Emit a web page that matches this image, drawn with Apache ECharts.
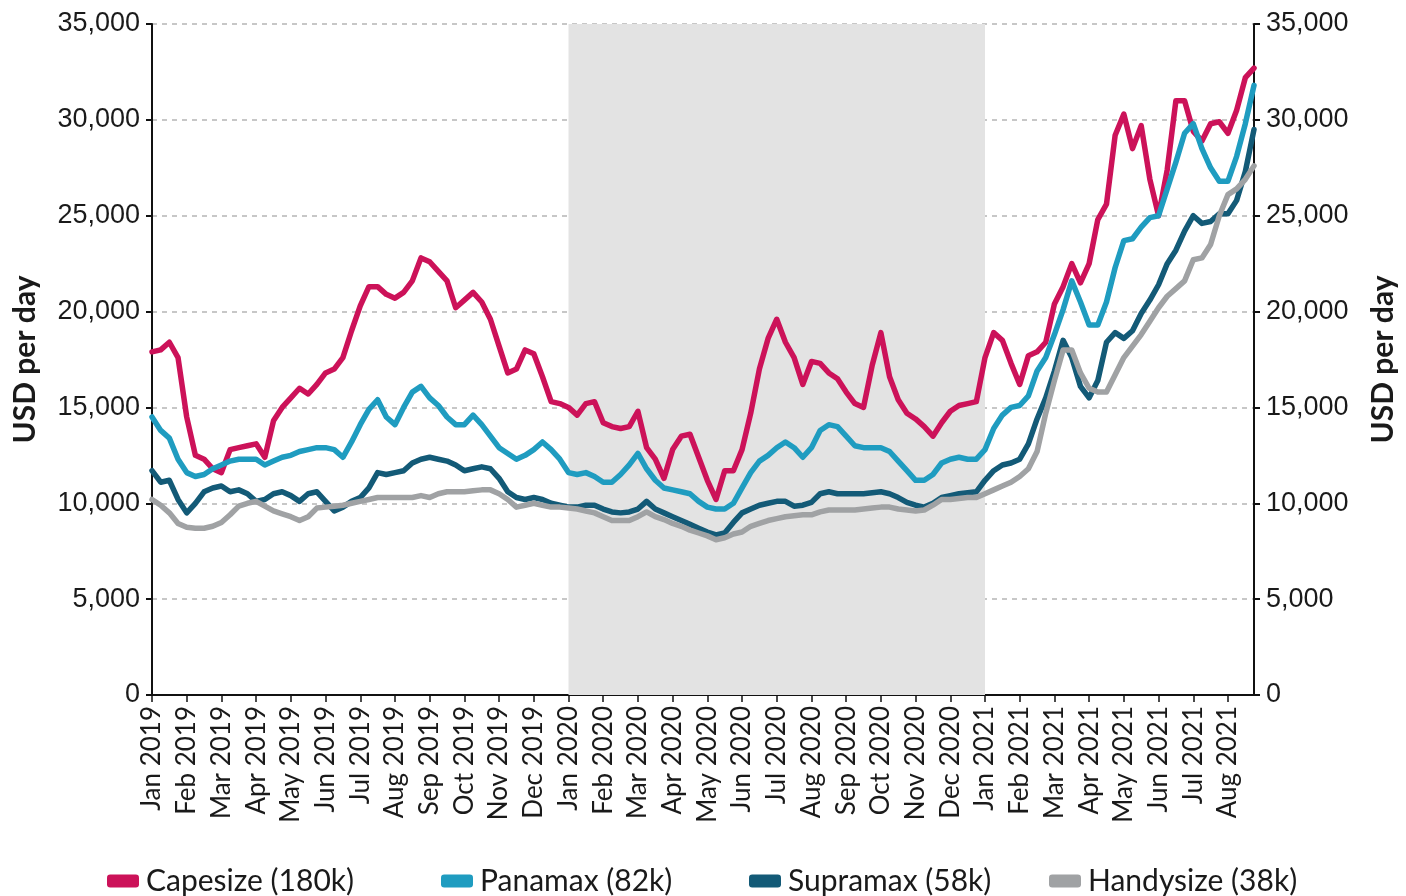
<!DOCTYPE html>
<html>
<head>
<meta charset="utf-8">
<script src="https://cdn.jsdelivr.net/npm/echarts@6/dist/echarts.min.js"></script>
<style>
html,body{margin:0;padding:0;background:#fff;}
#chart{width:1406px;height:896px;}
</style>
</head>
<body>
<div id="chart"></div>
<script>
// Month tick labels (one per month, starting Jan 2019)
const monthLabels = [
  'Jan 2019','Feb 2019','Mar 2019','Apr 2019','May 2019','Jun 2019','Jul 2019','Aug 2019','Sep 2019','Oct 2019','Nov 2019','Dec 2019',
  'Jan 2020','Feb 2020','Mar 2020','Apr 2020','May 2020','Jun 2020','Jul 2020','Aug 2020','Sep 2020','Oct 2020','Nov 2020','Dec 2020',
  'Jan 2021','Feb 2021','Mar 2021','Apr 2021','May 2021','Jun 2021','Jul 2021','Aug 2021'
];
// Shaded period (Jan 2020 to Jan 2021)
const shadeStart = 'Jan 2020';
const shadeEnd = 'Jan 2021';

// Roughly weekly observations (4 per month), USD per day
const capesize = [
  17900,18000,18400,17600,14500,12500,12300,11800,11600,12800,12900,13000,13100,12400,14300,15000,
  15500,16000,15700,16200,16800,17000,17600,19000,20300,21300,21300,20900,20700,21000,21600,22800,
  22600,22100,21600,20200,20600,21000,20500,19600,18200,16800,17000,18000,17800,16600,15300,15200,
  15000,14600,15200,15300,14200,14000,13900,14000,14800,12900,12300,11300,12800,13500,13600,12400,
  11200,10200,11700,11700,12800,14700,17000,18600,19600,18400,17600,16200,17400,17300,16800,16500,
  15800,15200,15000,17200,18900,16600,15400,14700,14400,14000,13500,14200,14800,15100,15200,15300,
  17600,18900,18500,17300,16200,17700,17900,18400,20400,21300,22500,21500,22500,24800,25600,29200,
  30300,28500,29700,26900,25000,27400,31000,31000,29400,28900,29800,29900,29300,30500,32200,32700
];
const panamax = [
  14500,13800,13400,12300,11600,11400,11500,11800,12000,12200,12300,12300,12300,12000,12200,12400,
  12500,12700,12800,12900,12900,12800,12400,13200,14100,14900,15400,14500,14100,15000,15800,16100,
  15500,15100,14500,14100,14100,14600,14100,13500,12900,12600,12300,12500,12800,13200,12800,12300,
  11600,11500,11600,11400,11100,11100,11500,12000,12600,11800,11200,10800,10700,10600,10500,10100,
  9800,9700,9700,10000,10800,11600,12200,12500,12900,13200,12900,12400,12900,13800,14100,14000,
  13500,13000,12900,12900,12900,12700,12200,11700,11200,11200,11500,12100,12300,12400,12300,12300,
  12800,13900,14600,15000,15100,15600,16900,17600,18800,20100,21600,20500,19300,19300,20500,22300,
  23700,23800,24400,24900,25000,26400,27800,29300,29800,28500,27500,26800,26800,28100,29800,31800
];
const supramax = [
  11700,11100,11200,10200,9500,10000,10600,10800,10900,10600,10700,10500,10100,10200,10500,10600,
  10400,10100,10500,10600,10100,9600,9800,10100,10300,10800,11600,11500,11600,11700,12100,12300,
  12400,12300,12200,12000,11700,11800,11900,11800,11300,10600,10300,10200,10300,10200,10000,9900,
  9800,9800,9900,9900,9700,9550,9500,9550,9700,10100,9700,9500,9300,9100,8900,8700,
  8500,8350,8450,9000,9500,9700,9900,10000,10100,10100,9850,9900,10050,10500,10600,10500,
  10500,10500,10500,10550,10600,10500,10300,10050,9900,9800,10000,10300,10400,10500,10550,10600,
  11200,11700,12000,12100,12300,13100,14400,15500,16900,18500,17600,16100,15500,16400,18400,18900,
  18600,19000,19900,20600,21400,22500,23200,24200,25000,24600,24700,25100,25100,25800,27300,29500
];
const handysize = [
  10200,9900,9500,8950,8750,8700,8700,8800,9000,9400,9850,10000,10100,9850,9600,9450,
  9300,9100,9300,9750,9800,9850,9900,10000,10100,10200,10300,10300,10300,10300,10300,10400,
  10300,10500,10600,10600,10600,10650,10700,10700,10500,10200,9800,9900,10000,9900,9800,9800,
  9750,9700,9600,9500,9300,9100,9100,9100,9300,9550,9300,9150,8950,8800,8600,8450,
  8300,8100,8200,8400,8500,8800,8950,9100,9200,9300,9350,9400,9400,9550,9650,9650,
  9650,9650,9700,9750,9800,9800,9700,9650,9600,9650,9900,10200,10200,10250,10300,10300,
  10500,10700,10900,11100,11400,11800,12700,14700,16400,18000,18000,16800,16000,15800,15800,16700,
  17600,18200,18800,19500,20200,20800,21200,21600,22700,22800,23500,25000,26100,26400,26900,27600
];
const seriesNames = ['Capesize (180k)','Panamax (82k)','Supramax (58k)','Handysize (38k)'];
const yTicks = {min: 0, max: 35000, interval: 5000};

const colors = ['#cc1259','#1f9cc0','#135a77','#a0a2a4'];
const allValues = [capesize, panamax, supramax, handysize];
const perMonth = 4;
const toPairs = arr => arr.map((v, i) => [i / perMonth, v]);
const xMax = (capesize.length - 1) / perMonth;

const chart = echarts.init(document.getElementById('chart'), null, {renderer: 'canvas'});
const labelFont = 'Liberation Sans, Arial, sans-serif';
const titleFont = 'Lato, Open Sans, sans-serif';

const yAxisCommon = (pos) => ({
  type: 'value',
  position: pos,
  min: yTicks.min, max: yTicks.max, interval: yTicks.interval,
  name: 'USD per day',
  nameLocation: 'middle',
  nameRotate: 90,
  nameGap: pos === 'left' ? 112 : 114,
  nameTextStyle: {fontFamily: titleFont, fontWeight: 'bold', fontSize: 30, color: '#1a1a1a'},
  axisLine: {show: true, lineStyle: {color: '#111', width: 2}},
  axisTick: {show: true, length: 6, lineStyle: {color: '#111', width: 2}},
  axisLabel: {
    fontFamily: labelFont, fontSize: 27, color: '#1a1a1a', margin: 12,
    formatter: v => v.toLocaleString('en-US')
  },
  splitLine: pos === 'left' ? {show: true, lineStyle: {color: '#b5b5b5', type: [5, 5], width: 1.5}} : {show: false}
});

const legends = seriesNames.map((n, i) => ({
  data: [n],
  left: [102, 436, 744, 1044][i],
  top: 861,
  icon: 'roundRect',
  itemWidth: 32,
  itemHeight: 13,
  itemGap: 10,
  textStyle: {fontFamily: titleFont, fontSize: 30, color: '#1a1a1a', padding: [0, 0, 0, 2]},
  selectedMode: false
}));

chart.setOption({
  backgroundColor: '#ffffff',
  animation: false,
  color: colors,
  grid: {left: 152, right: 144, top: 24, bottom: 201, containLabel: false},
  legend: legends,
  xAxis: {
    type: 'value',
    min: 0,
    max: xMax,
    interval: 1,
    axisLine: {show: true, lineStyle: {color: '#111', width: 2}},
    axisTick: {show: true, length: 7, lineStyle: {color: '#111', width: 1.5}},
    splitLine: {show: false},
    axisLabel: {
      rotate: 90,
      fontFamily: titleFont,
      fontSize: 26,
      color: '#1a1a1a',
      margin: 11,
      showMaxLabel: false,
      formatter: v => (Number.isInteger(v) && monthLabels[v]) ? monthLabels[v] : ''
    }
  },
  yAxis: [yAxisCommon('left'), yAxisCommon('right')],
  series: seriesNames.map((n, i) => {
    const s = {
      name: n,
      type: 'line',
      data: toPairs(allValues[i]),
      showSymbol: false,
      symbol: 'none',
      lineStyle: {width: 5.5, color: colors[i], cap: 'round', join: 'round'},
      itemStyle: {color: colors[i]},
      z: 3 + i
    };
    if (i === 0) {
      s.markArea = {
        silent: true,
        itemStyle: {color: '#e3e3e3'},
        data: [[{xAxis: monthLabels.indexOf(shadeStart)}, {xAxis: monthLabels.indexOf(shadeEnd)}]]
      };
    }
    return s;
  })
});
</script>
</body>
</html>
